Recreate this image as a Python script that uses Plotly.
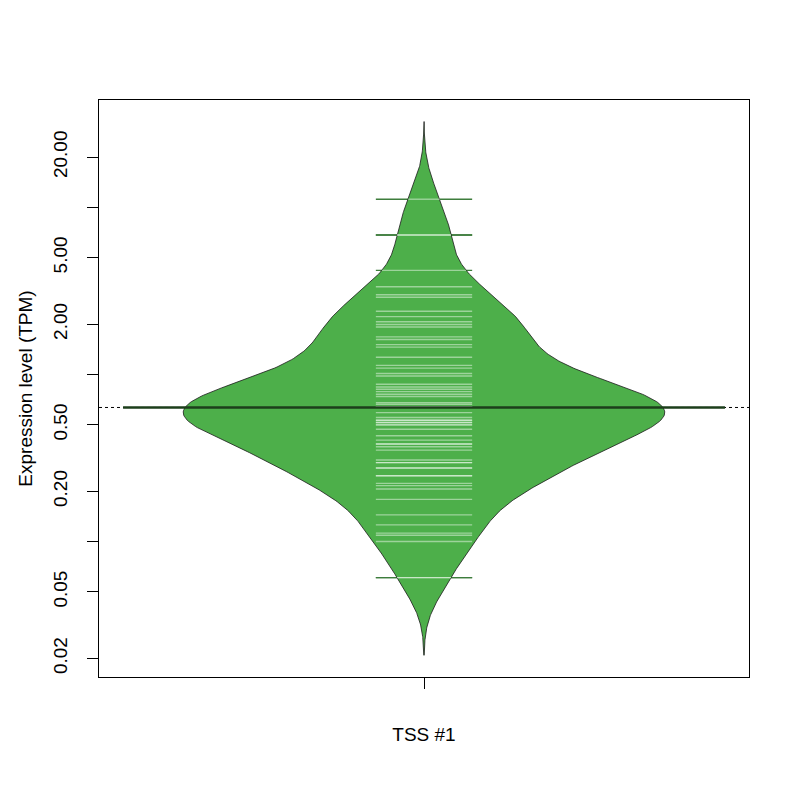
import numpy as np
import plotly.graph_objects as go

# expression values (TPM); the block of equal
# values sits under the average line
tpm = [11.2, 6.84, 6.84, 4.20, 3.35, 3.00, 2.90, 2.39, 2.22, 2.07,
       1.995, 1.925, 1.68, 1.62, 1.51, 1.46, 1.27, 1.135,
       1.093, 1.014, 0.980, 0.874, 0.842, 0.816, 0.790, 0.762, 0.739, 0.679,
       0.664, 0.64, 0.64, 0.64, 0.64, 0.64, 0.64, 0.64, 0.64,
       0.592, 0.553, 0.533, 0.533, 0.516, 0.516, 0.500, 0.500, 0.471, 0.430,
       0.405, 0.384, 0.384, 0.370, 0.353, 0.308, 0.297, 0.297, 0.276, 0.276,
       0.248, 0.248, 0.2233, 0.2163, 0.2067, 0.179, 0.1446, 0.126, 0.1124,
       0.1093, 0.1003, 0.0609, 0.0609]
group = "TSS #1"

y_tickvals = [0.02, 0.05, 0.1, 0.2, 0.5, 1, 2, 5, 10, 20]
y_ticktext = ["0.02", "0.05", "", "0.20", "0.50", "", "2.00", "5.00", "", "20.00"]

fill_col = "#4DAF4A"
in_col = "rgba(255,255,255,0.45)"
out_col = "rgb(62,125,60)"
avg_col = "rgb(28,62,27)"

bw = 0.155         # kernel bandwidth in log10 units
maxwidth = 0.8
ll = 0.16          # bean line length

logv = np.log10(np.array(tpm))
grid = np.linspace(logv.min() - 3 * bw, logv.max() + 3 * bw, 512)


def dens(t):
    t = np.atleast_1d(t)
    return np.exp(-0.5 * ((t[:, None] - logv[None, :]) / bw) ** 2).sum(axis=1)


d = dens(grid)
scale = (maxwidth / 2) / d.max()
half = d * scale
half_pts = dens(logv) * scale
avg = 10 ** logv.mean()

fig = go.Figure()

# overall dotted mean line
fig.add_trace(go.Scatter(x=[0.46, 1.54], y=[avg, avg], mode="lines",
                         line=dict(color="black", width=1, dash="dot"),
                         hoverinfo="skip"))

# bean lines outside the bean (covered by the bean inside)
xs, ys = [], []
for v in tpm:
    xs += [1 - ll / 2, 1 + ll / 2, None]
    ys += [v, v, None]
fig.add_trace(go.Scatter(x=xs, y=ys, mode="lines",
                         line=dict(color=out_col, width=1.4), hoverinfo="skip"))

# the bean
fig.add_trace(go.Scatter(x=np.concatenate([1 - half, (1 + half)[::-1]]),
                         y=np.concatenate([10 ** grid, (10 ** grid)[::-1]]),
                         mode="lines", fill="toself", fillcolor=fill_col,
                         line=dict(color="#1a1a1a", width=0.8), hoverinfo="skip"))

# bean lines inside the bean
xs, ys = [], []
for v, h in zip(tpm, half_pts):
    w = min(h, ll / 2)
    xs += [1 - w, 1 + w, None]
    ys += [v, v, None]
fig.add_trace(go.Scatter(x=xs, y=ys, mode="lines",
                         line=dict(color=in_col, width=1.4), hoverinfo="skip"))

# bean average line
fig.add_trace(go.Scatter(x=[0.5, 1.5], y=[avg, avg], mode="lines",
                         line=dict(color=avg_col, width=2.5), hoverinfo="skip"))

fig.update_layout(
    width=800, height=800, showlegend=False,
    paper_bgcolor="white", plot_bgcolor="white",
    margin=dict(l=91, r=59, t=92, b=131),
    font=dict(family="Liberation Sans, Arial, sans-serif", size=19, color="black"),
    xaxis=dict(range=[0.46, 1.54], tickvals=[1], ticktext=[group],
               showgrid=False, zeroline=False, showline=True, mirror=True,
               linecolor="black", linewidth=1, ticks="outside", ticklen=11,
               tickcolor="black", ticklabelstandoff=29, automargin=False),
    yaxis=dict(type="log", range=[-1.810, 1.643], tickvals=y_tickvals,
               ticktext=y_ticktext, tickangle=-90, showgrid=False,
               zeroline=False, showline=True, mirror=True, linecolor="black",
               linewidth=1, ticks="outside", ticklen=11, tickcolor="black",
               ticklabelstandoff=12, automargin=False,
               title=dict(text="Expression level (TPM)", standoff=12,
                          font=dict(size=19))),
)

fig.write_html("out.html")
